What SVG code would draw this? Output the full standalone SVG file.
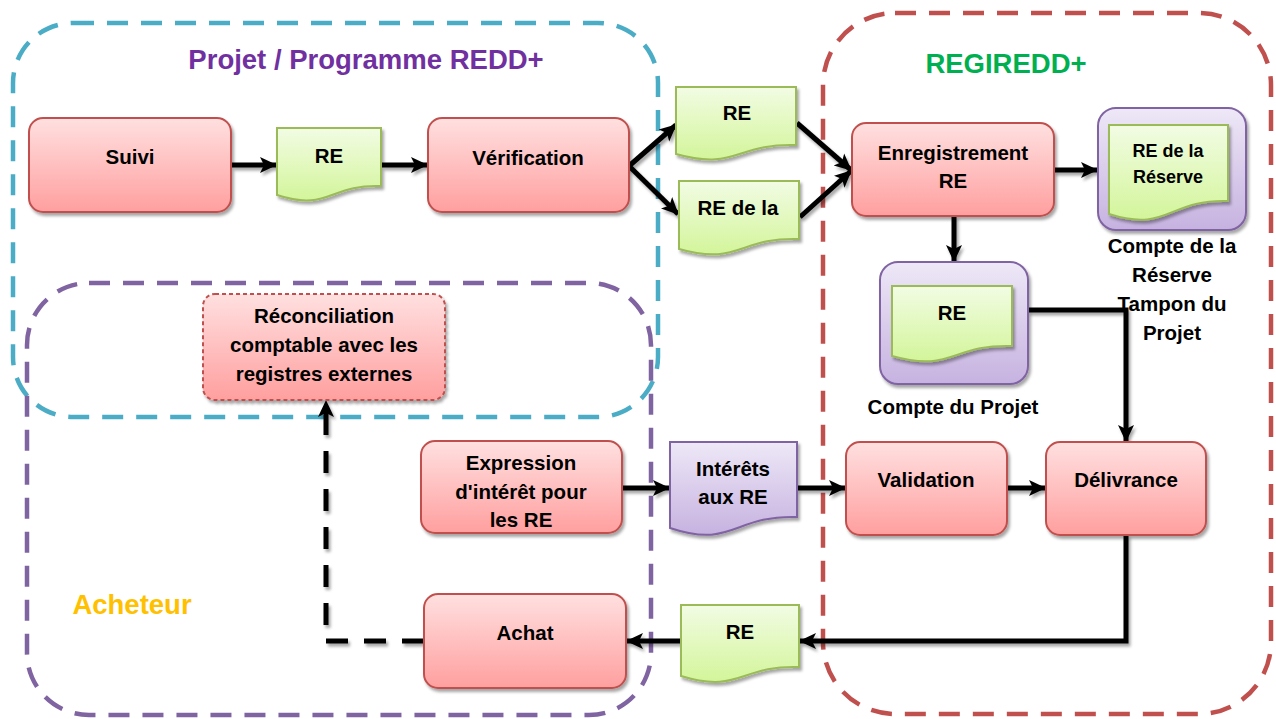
<svg xmlns="http://www.w3.org/2000/svg" width="1276" height="719" viewBox="0 0 1276 719">
<defs>
  <linearGradient id="gPink" x1="0" y1="0" x2="0" y2="1">
    <stop offset="0" stop-color="#FFE0E0"/>
    <stop offset="1" stop-color="#FF9F9F"/>
  </linearGradient>
  <linearGradient id="gGreen" x1="0" y1="0" x2="0" y2="1">
    <stop offset="0" stop-color="#F2FCE4"/>
    <stop offset="1" stop-color="#D3F59A"/>
  </linearGradient>
  <linearGradient id="gPurple" x1="0" y1="0" x2="0" y2="1">
    <stop offset="0" stop-color="#EEE8F7"/>
    <stop offset="1" stop-color="#C6B2E0"/>
  </linearGradient>
  <filter id="sh" filterUnits="userSpaceOnUse" x="0" y="0" width="1276" height="719">
    <feDropShadow dx="2" dy="3" stdDeviation="1.5" flood-color="#000" flood-opacity="0.35"/>
  </filter>
  <marker id="ah" markerUnits="userSpaceOnUse" markerWidth="18" markerHeight="18" viewBox="0 0 18 18" refX="16" refY="9" orient="auto">
    <path d="M0,1 L17,9 L0,17 L4,9 Z" fill="#000"/>
  </marker>
  <style>
    .cont { fill: none; stroke-width: 4.5; stroke-dasharray: 21 13; }
    .proc { fill: url(#gPink); stroke: #C0504D; stroke-width: 2; filter: url(#sh); }
    .doc { fill: url(#gGreen); stroke: #9BBB59; stroke-width: 2; filter: url(#sh); }
    .pdoc { fill: url(#gPurple); stroke: #8064A2; stroke-width: 2; filter: url(#sh); }
    .acct { fill: url(#gPurple); stroke: #8064A2; stroke-width: 2; filter: url(#sh); }
    .t { font-family: "Liberation Sans", Arial, sans-serif; font-weight: bold; font-size: 20.5px; fill: #000; text-anchor: middle; }
    .ts { font-size: 18px; }
    .title { font-family: "Liberation Sans", Arial, sans-serif; font-weight: bold; font-size: 27.5px; text-anchor: middle; }
    .con { fill: none; stroke: #000; stroke-width: 5; filter: url(#sh); }
  </style>
</defs>
<rect width="1276" height="719" fill="#FFFFFF"/>

<g id="containers">
  <rect id="c-projet" class="cont" x="13" y="23" width="645" height="394" rx="60" ry="60" stroke="#4BACC6"/>
  <rect id="c-acheteur" class="cont" x="27" y="283" width="624" height="432" rx="62" ry="62" stroke="#8064A2"/>
  <rect id="c-regiredd" class="cont" x="823" y="13" width="448" height="701" rx="72" ry="72" stroke="#C0504D"/>
  <text class="title" x="366" y="69" fill="#7030A0">Projet / Programme REDD+</text>
  <text class="title" x="1006" y="73" fill="#00B050">REGIREDD+</text>
  <text class="title" x="132" y="614" fill="#FFC000">Acheteur</text>
</g>

<g id="connectors">
  <line class="con" x1="232" y1="165" x2="276" y2="165" marker-end="url(#ah)"/>
  <line class="con" x1="382" y1="165" x2="427" y2="165" marker-end="url(#ah)"/>
  <line class="con" x1="629" y1="166" x2="676" y2="125" marker-end="url(#ah)"/>
  <line class="con" x1="629" y1="166" x2="678" y2="214" marker-end="url(#ah)"/>
  <line class="con" x1="797" y1="123" x2="851" y2="170" marker-end="url(#ah)"/>
  <line class="con" x1="800" y1="217" x2="851" y2="171" marker-end="url(#ah)"/>
  <line class="con" x1="1054" y1="170" x2="1097" y2="170" marker-end="url(#ah)"/>
  <line class="con" x1="954" y1="216" x2="954" y2="261" marker-end="url(#ah)"/>
  <polyline class="con" points="1028,310 1126,310 1126,441" marker-end="url(#ah)"/>
  <line class="con" x1="622" y1="488" x2="669" y2="488" marker-end="url(#ah)"/>
  <line class="con" x1="797" y1="488" x2="845" y2="488" marker-end="url(#ah)"/>
  <line class="con" x1="1007" y1="488" x2="1045" y2="488" marker-end="url(#ah)"/>
  <polyline class="con" points="1126,535 1126,641 800,641" marker-end="url(#ah)"/>
  <line class="con" x1="681" y1="641" x2="627" y2="641" marker-end="url(#ah)"/>
  <polyline class="con" points="424,641 326,641 326,401" stroke-dasharray="22 16" marker-end="url(#ah)"/>
</g>

<g id="n-suivi">
  <rect class="proc" x="29" y="118" width="202" height="94" rx="14" ry="14"/>
  <text class="t" x="130" y="164">Suivi</text>
</g>
<g id="n-re1">
  <path class="doc" d="M277,128 H381 V186 C329,184 329,212 277,195 Z"/>
  <text class="t" x="329" y="163">RE</text>
</g>
<g id="n-verification">
  <rect class="proc" x="428" y="118" width="201" height="94" rx="14" ry="14"/>
  <text class="t" x="528" y="165">Vérification</text>
</g>
<g id="n-re2">
  <path class="doc" d="M676,87 H796 V145 C736,143 736,171 676,154 Z"/>
  <text class="t" x="737" y="120">RE</text>
</g>
<g id="n-rereserve1">
  <path class="doc" d="M679,181 H799 V239 C739,237 739,266 679,249 Z"/>
  <text class="t" x="738" y="215">RE de la</text>
</g>
<g id="n-enregistrement">
  <rect class="proc" x="852" y="123" width="202" height="93" rx="14" ry="14"/>
  <text class="t" x="953" y="160">Enregistrement</text>
  <text class="t" x="953" y="188">RE</text>
</g>
<g id="n-compte-reserve">
  <rect class="acct" x="1098" y="108" width="148" height="122" rx="18" ry="18"/>
  <path class="doc" d="M1109,125 H1228 V201 C1168,199 1168,233 1109,214 Z"/>
  <text class="t ts" x="1168" y="157">RE de la</text>
  <text class="t ts" x="1168" y="183">Réserve</text>
  <text class="t" x="1172" y="253">Compte de la</text>
  <text class="t" x="1172" y="282">Réserve</text>
  <text class="t" x="1172" y="311">Tampon du</text>
  <text class="t" x="1172" y="340">Projet</text>
</g>
<g id="n-compte-projet">
  <rect class="acct" x="880" y="262" width="148" height="122" rx="18" ry="18"/>
  <path class="doc" d="M892,286 H1012 V346 C952,344 952,373 892,356 Z"/>
  <text class="t" x="952" y="320">RE</text>
  <text class="t" x="953" y="414">Compte du Projet</text>
</g>
<g id="n-reconciliation">
  <rect class="proc" x="203" y="294" width="242" height="106" rx="12" ry="12" stroke-width="1.5" stroke-dasharray="4 3"/>
  <text class="t" x="324" y="323">Réconciliation</text>
  <text class="t" x="324" y="352">comptable avec les</text>
  <text class="t" x="324" y="381">registres externes</text>
</g>
<g id="n-expression">
  <rect class="proc" x="421" y="441" width="201" height="92" rx="14" ry="14"/>
  <text class="t" x="521" y="470">Expression</text>
  <text class="t" x="521" y="499">d'intérêt pour</text>
  <text class="t" x="521" y="527">les RE</text>
</g>
<g id="n-interets">
  <path class="pdoc" d="M670,442 H797 V517 C733,515 733,549 670,528 Z"/>
  <text class="t" x="733" y="476">Intérêts</text>
  <text class="t" x="733" y="504">aux RE</text>
</g>
<g id="n-validation">
  <rect class="proc" x="846" y="442" width="161" height="93" rx="14" ry="14"/>
  <text class="t" x="926" y="487">Validation</text>
</g>
<g id="n-delivrance">
  <rect class="proc" x="1046" y="442" width="160" height="93" rx="14" ry="14"/>
  <text class="t" x="1126" y="487">Délivrance</text>
</g>
<g id="n-achat">
  <rect class="proc" x="424" y="594" width="202" height="94" rx="14" ry="14"/>
  <text class="t" x="525" y="640">Achat</text>
</g>
<g id="n-re3">
  <path class="doc" d="M681,605 H799 V667 C740,665 740,694 681,676 Z"/>
  <text class="t" x="740" y="639">RE</text>
</g>
</svg>
